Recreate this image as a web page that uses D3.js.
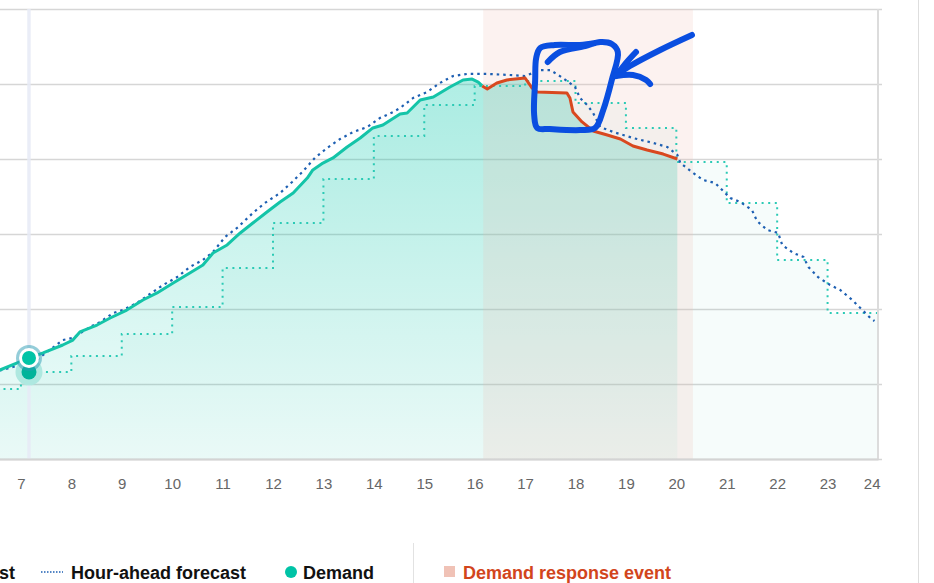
<!DOCTYPE html>
<html>
<head>
<meta charset="utf-8">
<script src="https://cdn.jsdelivr.net/npm/d3@7"></script>
<style>
  body { margin: 0; background: #fff; overflow: hidden; }
  svg { display: block; font-family: "Liberation Sans", Arial, sans-serif; }
</style>
</head>
<body>
<svg id="chart" width="934" height="583"></svg>
<script>
// demand (MW)
var demandHours = [6.58, 7.16, 7.44, 7.83, 8.03, 8.17, 8.51, 8.77, 9.10, 9.42, 9.70, 10.02, 10.35, 10.61, 10.81,
  11.09, 11.35, 11.60, 11.88, 12.14, 12.40, 12.68, 12.79, 12.99, 13.19, 13.47, 13.73, 13.98, 14.18, 14.52,
  14.66, 14.92, 15.18, 15.51, 15.77, 15.95, 16.07, 16.15, 16.25, 16.44, 16.64, 17.00, 17.14, 17.24, 17.83,
  17.89, 17.95, 18.13, 18.35, 18.63, 18.89, 19.14, 19.42, 19.74, 20.02];
var demandMW = [30930, 31730, 32070, 32600, 32930, 33470, 33930, 34400, 34930, 35600, 36070, 36730, 37400, 37930, 38730,
  39270, 40070, 40730, 41470, 42130, 42730, 43730, 44270, 44730, 45070, 45800, 46400, 47070, 47270, 48000,
  48070, 48930, 49130, 49800, 50270, 50330, 50130, 49870, 49670, 50070, 50270, 50400, 49730, 49470, 49400,
  49070, 48130, 47470, 46870, 46600, 46330, 45870, 45600, 45330, 45000];

var hourAheadHours = [6.58, 6.84, 7.28, 7.83, 8.03, 8.37, 8.57, 8.83, 9.02, 9.30, 9.56, 9.82, 10.10, 10.35, 10.61,
  10.81, 11.05, 11.31, 11.60, 11.84, 12.14, 12.38, 12.58, 12.83, 13.07, 13.33, 13.59, 13.87, 14.12, 14.38,
  14.52, 14.78, 15.06, 15.31, 15.57, 15.85, 16.25, 16.70, 17.00, 17.30, 17.50, 17.75, 17.99, 18.09, 18.23,
  18.35, 18.49, 18.75, 19.14, 19.54, 19.82, 20.02, 20.08, 20.31, 20.53, 20.77, 20.97, 21.07, 21.27, 21.50,
  21.60, 21.80, 22.02, 22.10, 22.32, 22.52, 22.62, 22.81, 23.05, 23.25, 23.49, 23.69, 23.85, 23.93];
var hourAheadMW = [30900, 31130, 31530, 32930, 33070, 33800, 34130, 34730, 34930, 35400, 36000, 36600, 37130, 37800, 38270,
  38800, 39800, 40470, 41400, 42070, 42730, 43470, 44130, 45070, 45730, 46330, 46800, 47130, 47730, 48130,
  48400, 49070, 49470, 50070, 50530, 50670, 50670, 50600, 50530, 50930, 50930, 50400, 49800, 49070, 48600,
  48070, 47130, 46800, 46400, 46070, 45800, 45270, 44730, 44130, 43600, 43400, 42730, 42400, 42130, 41600,
  40870, 40270, 40070, 39270, 38730, 38470, 37800, 37130, 36600, 36270, 35600, 34930, 34400, 34200];

var dayAheadHours = [6, 7, 8, 9, 10, 11, 12, 13, 14, 15, 16, 17, 18, 19, 20, 21, 22, 23];
var dayAheadMW = [29670, 30800, 31870, 33330, 35130, 37730, 40730, 43670, 46530, 48600, 49870, 50200,
  48730, 47070, 44800, 42070, 38270, 34730];

var eventStart = 16.17, eventEnd = 20.33;
var hoverHour = 7.16;

var xTicks = [7, 8, 9, 10, 11, 12, 13, 14, 15, 16, 17, 18, 19, 20, 21, 22, 23, 24];
var yTicks = [25000, 30000, 35000, 40000, 45000, 50000, 55000];

// hand drawn marker on top of the screenshot, in chart units
var markBox = [[17.45, 51470], [17.69, 52130], [18.19, 52530], [18.49, 52800], [18.72, 52670], [18.84, 52130],
  [18.72, 50270], [18.55, 48270], [18.39, 47070], [18.09, 46930], [17.49, 47000], [17.24, 47070],
  [17.18, 47930], [17.20, 50270], [17.22, 51730], [17.30, 52400], [17.59, 52600], [18.09, 52600], [18.39, 52730]];
var markShaft = [[20.31, 53270], [19.68, 52270], [19.08, 51200], [18.78, 50530]];
var markHeadA = [[19.20, 52130], [19.02, 51470], [18.80, 50530]];
var markHeadB = [[18.80, 50530], [19.14, 50600], [19.40, 50270], [19.48, 50000]];

var svg = d3.select("#chart");

// the plot starts left of the visible page (hour 0 is off screen)
var x = d3.scaleLinear().domain([0, 24]).range([-332, 878]);
var y = d3.scaleLinear().domain([25000, 55000]).range([459, 9]);

var demand = demandHours.map(function(h, i) { return [h, demandMW[i]]; });
var hourAhead = hourAheadHours.map(function(h, i) { return [h, hourAheadMW[i]]; });
var dayAhead = dayAheadHours.map(function(h, i) { return [h, dayAheadMW[i]]; });
dayAhead.push([24, dayAheadMW[dayAheadMW.length - 1]]);

var defs = svg.append("defs");
defs.append("clipPath").attr("id", "plotClip")
  .append("rect").attr("x", -332).attr("y", 0).attr("width", 1210).attr("height", 459);

var grad = defs.append("linearGradient").attr("id", "demandFill")
  .attr("gradientUnits", "userSpaceOnUse")
  .attr("x1", 0).attr("x2", 0).attr("y1", y(51000)).attr("y2", y(25000));
grad.append("stop").attr("offset", "0%").attr("stop-color", "#00c8aa").attr("stop-opacity", 0.32);
grad.append("stop").attr("offset", "100%").attr("stop-color", "#00c8aa").attr("stop-opacity", 0.05);

// grid
svg.append("g")
  .call(d3.axisLeft(y).tickValues(yTicks).tickSize(-1214).tickFormat(""))
  .attr("transform", "translate(-332,0)")
  .call(function(g) { g.select(".domain").remove(); })
  .selectAll("line").attr("stroke", "#d6d6d6").attr("stroke-width", 1.5);

var plot = svg.append("g").attr("clip-path", "url(#plotClip)");

var line = d3.line().x(function(d) { return x(d[0]); }).y(function(d) { return y(d[1]); });
var stepLine = d3.line().curve(d3.curveStepAfter).x(function(d) { return x(d[0]); }).y(function(d) { return y(d[1]); });
var area = d3.area().x(function(d) { return x(d[0]); }).y0(y(25000)).y1(function(d) { return y(d[1]); });

// forecast fill and demand fill
plot.append("path").datum(dayAhead)
  .attr("d", area.curve(d3.curveStepAfter))
  .attr("fill", "#00a896").attr("fill-opacity", 0.035);
area.curve(d3.curveLinear);
plot.append("path").datum(demand)
  .attr("d", area)
  .attr("fill", "url(#demandFill)");

// demand response event
plot.append("rect")
  .attr("x", x(eventStart)).attr("y", y(55000))
  .attr("width", x(eventEnd) - x(eventStart)).attr("height", y(25000) - y(55000))
  .attr("fill", "#eec0b4").attr("fill-opacity", 0.2);

// hover line
plot.append("line")
  .attr("x1", x(hoverHour)).attr("x2", x(hoverHour))
  .attr("y1", y(55000)).attr("y2", y(25000))
  .attr("stroke", "#e6eaf6").attr("stroke-width", 3.5).attr("stroke-opacity", 0.85);

// lines
plot.append("path").datum(dayAhead)
  .attr("d", stepLine)
  .attr("fill", "none").attr("stroke", "#2ccab5").attr("stroke-width", 2)
  .attr("stroke-dasharray", "2,4.6");

plot.append("path").datum(hourAhead)
  .attr("d", line)
  .attr("fill", "none").attr("stroke", "#1d5fb2").attr("stroke-width", 2.2)
  .attr("stroke-dasharray", "2.5,4");

plot.append("path").datum(demand.filter(function(d) { return d[0] <= 16.15; }))
  .attr("d", line)
  .attr("fill", "none").attr("stroke", "#14c4a8").attr("stroke-width", 3)
  .attr("stroke-linejoin", "round");

plot.append("path").datum(demand.filter(function(d) { return d[0] >= 16.15; }))
  .attr("d", line)
  .attr("fill", "none").attr("stroke", "#d9481f").attr("stroke-width", 3)
  .attr("stroke-linejoin", "round");

// right border
svg.append("line")
  .attr("x1", x(24)).attr("x2", x(24)).attr("y1", y(55000)).attr("y2", y(25000))
  .attr("stroke", "#dcdcdc").attr("stroke-width", 2);

// x axis
var xAxis = svg.append("g")
  .attr("transform", "translate(0," + y(25000) + ")")
  .call(d3.axisBottom(x).tickValues(xTicks).tickSizeInner(0).tickSizeOuter(0).tickPadding(19));
xAxis.select(".domain").attr("stroke", "#d4d4d4").attr("stroke-width", 2);
xAxis.selectAll("text")
  .attr("font-size", 15).attr("fill", "#666")
  .attr("font-family", "'Liberation Sans', Arial, sans-serif");
xAxis.selectAll(".tick").filter(function(d) { return d === 24; }).select("text")
  .attr("text-anchor", "end").attr("x", 2);

// hover dots
var hoverDemand = demand.reduce(function(a, b) {
  return Math.abs(b[0] - hoverHour) < Math.abs(a[0] - hoverHour) ? b : a;
});
var hoverDay = dayAhead.filter(function(d) { return d[0] <= hoverHour; }).pop();

svg.append("circle").attr("cx", x(hoverHour)).attr("cy", y(hoverDay[1])).attr("r", 13.5)
  .attr("fill", "#aee8e0");
svg.append("circle").attr("cx", x(hoverHour)).attr("cy", y(hoverDay[1])).attr("r", 7.5)
  .attr("fill", "#00b39a");

svg.append("circle").attr("cx", x(hoverHour)).attr("cy", y(hoverDemand[1])).attr("r", 13)
  .attr("fill", "#2a9cb4").attr("fill-opacity", 0.5);
svg.append("circle").attr("cx", x(hoverHour)).attr("cy", y(hoverDemand[1])).attr("r", 10)
  .attr("fill", "#fff");
svg.append("circle").attr("cx", x(hoverHour)).attr("cy", y(hoverDemand[1])).attr("r", 7)
  .attr("fill", "#00c3a6");

// hand drawn box and arrow
var pen = d3.line().curve(d3.curveCatmullRom.alpha(0.5))
  .x(function(d) { return x(d[0]); }).y(function(d) { return y(d[1]); });
[markBox, markShaft, markHeadA, markHeadB].forEach(function(p) {
  svg.append("path").datum(p).attr("d", pen)
    .attr("fill", "none").attr("stroke", "#0a4ee0").attr("stroke-width", 6)
    .attr("stroke-linecap", "round").attr("stroke-linejoin", "round");
});

// legend
var legend = svg.append("g").attr("font-size", 18).attr("font-weight", "bold");
legend.append("text").attr("x", 15).attr("y", 579).attr("text-anchor", "end")
  .attr("fill", "#111").text("Day-ahead forecast");
legend.append("line").attr("x1", 41).attr("x2", 63).attr("y1", 572).attr("y2", 572)
  .attr("stroke", "#1d5fb2").attr("stroke-width", 1.5).attr("stroke-dasharray", "1.5,1.5");
legend.append("text").attr("x", 71).attr("y", 579).attr("fill", "#111").text("Hour-ahead forecast");
legend.append("circle").attr("cx", 291).attr("cy", 572).attr("r", 6).attr("fill", "#00c3a6");
legend.append("text").attr("x", 303).attr("y", 579).attr("fill", "#111").text("Demand");
svg.append("line").attr("x1", 413.5).attr("x2", 413.5).attr("y1", 543).attr("y2", 583)
  .attr("stroke", "#e2e2e2").attr("stroke-width", 1);
legend.append("rect").attr("x", 444).attr("y", 566).attr("width", 11).attr("height", 11)
  .attr("fill", "#f0c2b6");
legend.append("text").attr("x", 463).attr("y", 579).attr("fill", "#d2451c").text("Demand response event");

// page edge on the right
svg.append("line").attr("x1", 918.5).attr("x2", 918.5).attr("y1", 0).attr("y2", 583)
  .attr("stroke", "#dedede").attr("stroke-width", 1);
</script>
</body>
</html>
